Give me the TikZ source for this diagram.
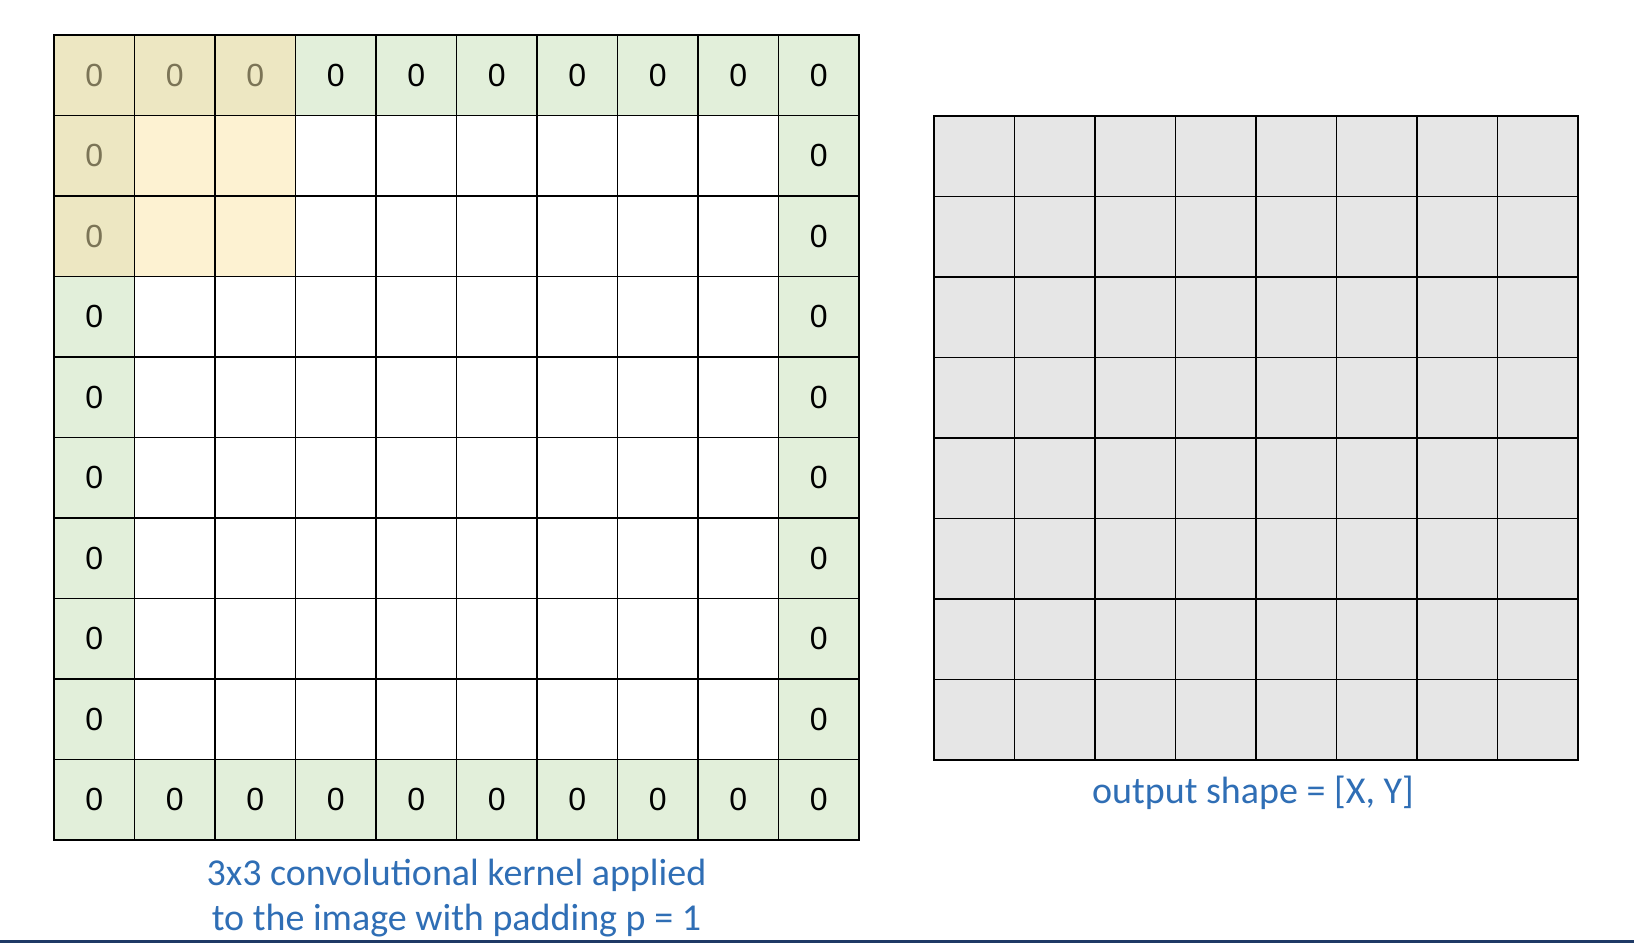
\documentclass[tikz,border=0pt]{standalone}
\usepackage{fontspec}
\setmainfont{Carlito}
\newfontfamily\digitfont{Liberation Sans}
\usetikzlibrary{positioning}

\definecolor{padgreen}{HTML}{E2EFDA}
\definecolor{kernpad}{HTML}{EDE7C2}
\definecolor{kernin}{HTML}{FDF2D2}
\definecolor{kerntext}{HTML}{7B7456}
\definecolor{outgray}{HTML}{E6E6E6}
\definecolor{captionblue}{HTML}{2F6EB5}
\definecolor{rulenavy}{HTML}{1F3A66}

\begin{document}
\begin{tikzpicture}[x=0.5pt,y=-0.5pt,
    cell/.style={draw,line width=0.9pt,minimum size=40.25pt,inner sep=0pt,outer sep=0pt,
      font=\digitfont\fontsize{16}{16}\selectfont},
    blank/.style={cell,fill=white},
    pad/.style={cell,fill=padgreen},
    kpad/.style={cell,fill=kernpad,text=kerntext},
    kin/.style={cell,fill=kernin},
    outcell/.style={cell,fill=outgray},
    caption/.style={text=captionblue,align=center,font=\fontsize{19}{22.5}\selectfont}]
  \useasboundingbox (0,0) rectangle (1634,944);
  % padded input image, 10x10
  \foreach \r in {0,...,9}{
    \foreach \c in {0,...,9}{
      \pgfmathtruncatemacro\isedge{(\r==0)||(\r==9)||(\c==0)||(\c==9)}
      \pgfmathtruncatemacro\iskern{(\r<3)&&(\c<3)}
      \ifnum\iskern=1
        \ifnum\isedge=1 \def\sty{kpad}\def\lbl{0}\else \def\sty{kin}\def\lbl{}\fi
      \else
        \ifnum\isedge=1 \def\sty{pad}\def\lbl{0}\else \def\sty{blank}\def\lbl{}\fi
      \fi
      \node[\sty] (in-\r-\c) at ({94.25+80.5*\c},{75.25+80.5*\r}) {\lbl};
    }
  }
  % output map, 8x8
  \foreach \r in {0,...,7}{
    \foreach \c in {0,...,7}{
      \node[outcell] (out-\r-\c) at ({974.25+80.5*\c},{156.25+80.5*\r}) {};
    }
  }
  \node[caption] (incap) at (456.5,898) {3x3 convolutional kernel applied\\to the image with padding p = 1};
  \node[caption] (outcap) at (1253,793) {output shape = [X, Y]};
  \draw[rulenavy,line width=1.6pt] (0,941.5) -- (1634,941.5);
\end{tikzpicture}
\end{document}
